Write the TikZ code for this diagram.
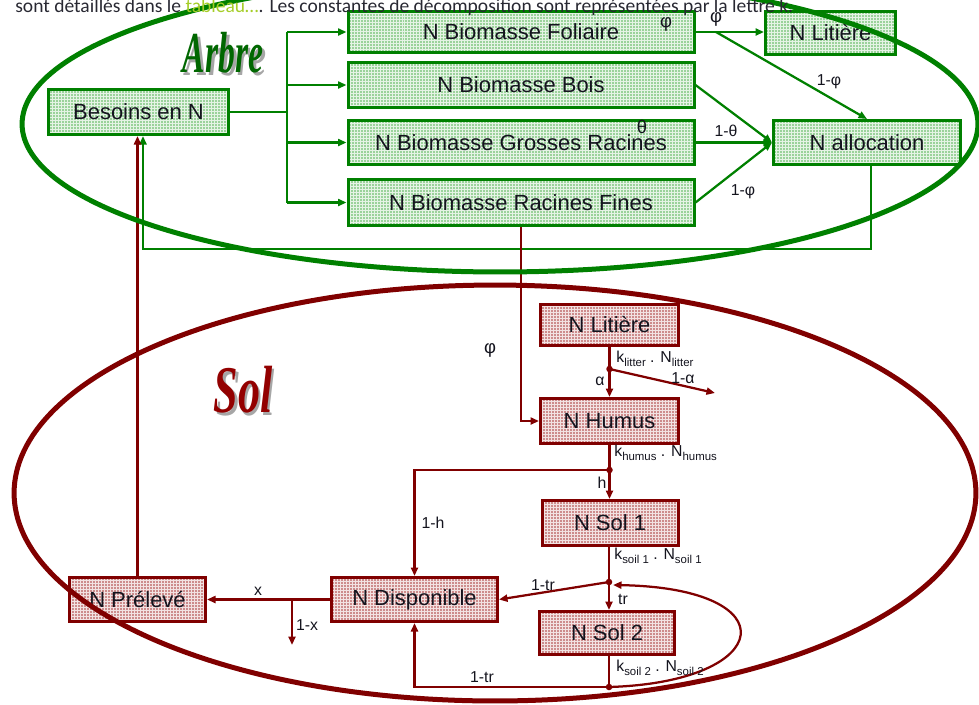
\documentclass[tikz,border=0pt]{standalone}
\usepackage{fontspec}
\usepackage{graphicx}
\setmainfont{Liberation Sans}
\newfontfamily\carlito{Carlito}
\newfontfamily\wordart{Liberation Serif}
\usetikzlibrary{arrows.meta}
\definecolor{gdark}{RGB}{0,128,0}
\definecolor{gfill}{RGB}{155,210,155}
\definecolor{rdark}{RGB}{128,0,0}
\definecolor{rfill}{RGB}{205,140,140}
\definecolor{txt}{RGB}{20,20,30}
\definecolor{toptxt}{RGB}{40,40,50}
\definecolor{tabgreen}{RGB}{165,205,40}
\newcommand\sbs[1]{\raisebox{-0.45ex}{\fontsize{6.5}{7}\selectfont #1}}
\newcommand\shadowtext[3]{\makebox[0pt][l]{\hspace{1.6pt}\raisebox{-1.6pt}{\textcolor{black!35}{\scalebox{#1}[1]{#3}}}}\textcolor{#2}{\scalebox{#1}[1]{#3}}}
\begin{document}
\begin{tikzpicture}[x=0.02cm,y=-0.02cm,
  gridfill/.style={path picture={\draw[white, line width=0.3pt, opacity=0.75] (path picture bounding box.south west) grid[step=0.06cm] (path picture bounding box.north east);}},
  sz/.style 2 args={minimum width={#1*0.02cm}, minimum height={#2*0.02cm}},
  box/.style={draw, line width=0.06cm, inner sep=0pt, font=\fontsize{12.5}{14}\selectfont, text=txt},
  gbox/.style={box, draw=gdark, fill=gfill, gridfill},
  rbox/.style={box, draw=rdark, fill=rfill, gridfill},
  gline/.style={draw=gdark, line width=0.045cm},
  garrow/.style={gline, -{Triangle[length=0.17cm,width=0.14cm]}},
  rline/.style={draw=rdark, line width=0.045cm},
  rarrow/.style={rline, -{Triangle[length=0.17cm,width=0.14cm]}},
  lab/.style={font=\fontsize{9}{10}\selectfont, text=txt, inner sep=0pt},
  glab/.style={font=\fontsize{10.5}{11}\selectfont, text=txt, inner sep=0pt},
  dotnode/.style={circle, fill=rdark, inner sep=0pt, minimum size=0.13cm},
]
\useasboundingbox (0,0) rectangle (979,704);

% ---- green boxes
\node[gbox, sz={180}{45}] (besoins) at (138.5,112) {Besoins en N};
\node[gbox, sz={346}{41}] (fol) at (521,32) {N Biomasse Foliaire};
\node[gbox, sz={346}{45}] (bois) at (521,85) {N Biomasse Bois};
\node[gbox, sz={346}{44}] (gros) at (521,142.5) {N Biomasse Grosses Racines};
\node[gbox, sz={346}{46}] (fines) at (521,202.5) {N Biomasse Racines Fines};
\node[gbox, sz={130}{43}] (litg) at (830.5,33) {N Litière};
\node[gbox, sz={187}{44}] (alloc) at (867,142.5) {N allocation};

% ---- red boxes
\node[rbox, sz={138}{41}] (litr) at (609.5,325) {N Litière};
\node[rbox, sz={138}{45}] (humus) at (609.5,421) {N Humus};
\node[rbox, sz={136}{45}] (sol1) at (610,523) {N Sol 1};
\node[rbox, sz={135}{43}] (sol2) at (607,633) {N Sol 2};
\node[rbox, sz={166}{44}] (dispo) at (414.5,599.5) {N Disponible};
\node[rbox, sz={136}{44}] (prel) at (137.5,599.5) {N Prélevé};

% ---- green connectors
\coordinate (busT) at (287,32);
\coordinate (busB) at (287,202.5);
\draw[gline] (besoins.east) -- (besoins.east -| busT);
\draw[gline] (busT) -- (busB);
\draw[garrow] (busT) -- (fol.west);
\draw[garrow] (busT |- bois.west) -- (bois.west);
\draw[garrow] (busT |- gros.west) -- (gros.west);
\draw[garrow] (busB) -- (fines.west);
\draw[garrow] (fol.east) -- (fol.east -| litg.west);
\coordinate (phisplit) at (716,32);
\draw[garrow] (phisplit) -- (alloc.north);
\draw[garrow] (bois.east) -- (alloc.west);
\draw[garrow] (gros.east) -- (alloc.west);
\draw[garrow] (fines.east) -- (alloc.west);
\coordinate (aret) at (871,249);
\coordinate (gret) at (143,249);
\draw[garrow] (alloc.south -| aret) -- (aret) -- (gret) -- (gret |- besoins.south);

% ---- red connectors
\draw[rarrow] (prel.north) -- (prel.north |- besoins.south);
\draw[rarrow] (fines.south) |- (humus.west);
\node[dotnode] (ldot) at (609.5,369) {};
\draw[rline] (litr.south) -- (ldot.center);
\draw[rarrow] (ldot.center) -- (humus.north);
\coordinate (aend) at (715,393);
\draw[rarrow] (ldot.center) -- (aend);
\node[dotnode] (hdot) at (609.5,470) {};
\draw[rline] (humus.south) -- (hdot.center);
\draw[rarrow] (hdot.center) -- (hdot.center |- sol1.north);
\draw[rarrow] (hdot.center) -| (dispo.north);
\node[dotnode] (trdot) at (609,582) {};
\draw[rline] (sol1.south -| trdot) -- (trdot.center);
\draw[rarrow] (trdot.center) -- (trdot.center |- sol2.north);
\draw[rarrow] (trdot.center) -- (dispo.east);
\node[dotnode] (bdot) at (609,687) {};
\draw[rline] (sol2.south -| bdot) -- (bdot.center);
\draw[rarrow] (bdot.center) -| (dispo.south);
\coordinate (loopend) at (613,585);
\draw[rarrow] (bdot.center) .. controls (775,682) and (790,588) .. (loopend);
\draw[rarrow] (dispo.west) -- (prel.east);
\coordinate (xsplit) at (292,599.5);
\coordinate (xend) at (292,645);
\draw[rarrow] (xsplit) -- (xend);

% ---- labels green
\node[glab] (phiA) at (666,24) {φ};
\node[glab] (phiB) at (716,19) {φ};
\node[lab] (omphiA) at (829,82) {1-φ};
\node[glab] (theta) at (642,127) {θ};
\node[lab] (omtheta) at (726,131) {1-θ};
\node[lab] (omphiB) at (743,192) {1-φ};

% ---- labels red
\node[glab] (phiR) at (490,350) {φ};
\node[lab, anchor=west] (klit) at (616,359) {k\sbs{litter} . N\sbs{litter}};
\node[lab] (alpha) at (600,381) {α};
\node[lab] (omalpha) at (683,378) {1-α};
\node[lab, anchor=west] (khum) at (614,453) {k\sbs{humus} . N\sbs{humus}};
\node[lab] (hl) at (602,483) {h};
\node[lab] (omh) at (433,523) {1-h};
\node[lab, anchor=west] (ks1) at (614,556) {k\sbs{soil 1} . N\sbs{soil 1}};
\node[lab] (omtr1) at (543,585) {1-tr};
\node[lab] (trl) at (623,599) {tr};
\node[lab, anchor=west] (ks2) at (616,668) {k\sbs{soil 2} . N\sbs{soil 2}};
\node[lab] (omtr2) at (482,677) {1-tr};
\node[lab] (xl) at (258,591) {x};
\node[lab] (omx) at (307,625) {1-x};

% ---- titles
\node[inner sep=0pt, font=\wordart\bfseries\itshape\fontsize{33}{33}\selectfont] (arbre) at (223,54) {\shadowtext{0.58}{gdark!80!black}{Arbre}};
\node[inner sep=0pt, font=\wordart\bfseries\itshape\fontsize{38}{38}\selectfont] (sol) at (243,391) {\shadowtext{0.66}{rdark!85!red}{Sol}};

% ---- ellipses
\draw[draw=gdark, line width=0.1cm] (500,124) ellipse [x radius=9.56cm, y radius=2.96cm];
\draw[draw=rdark, line width=0.1cm] (495,493) ellipse [x radius=9.62cm, y radius=4.16cm];

% ---- top text (cut off)
\node[anchor=base west, inner sep=0pt, text=toptxt] (toptext) at (15,12) {\resizebox{15.56cm}{!}{\carlito\fontsize{10.5}{12}\selectfont sont détaillés dans le \textcolor{tabgreen}{tableau…}. Les constantes de décomposition sont représentées par la lettre k.}};
\end{tikzpicture}
\end{document}
